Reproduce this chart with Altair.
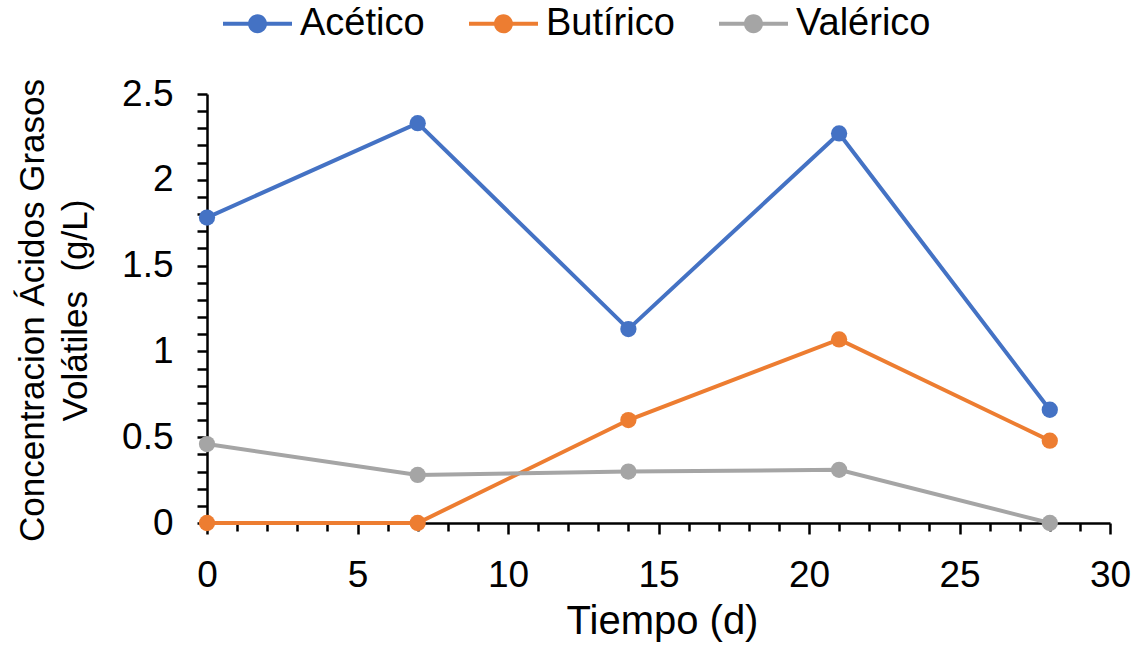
import altair as alt
import pandas as pd

# Sampling days and measured volatile fatty acid concentrations (g/L)
days = [0, 7, 14, 21, 28]
acetico = [1.78, 2.33, 1.13, 2.27, 0.66]
butirico = [0.00, 0.00, 0.60, 1.07, 0.48]
valerico = [0.46, 0.28, 0.30, 0.31, 0.00]

series_names = ["Acético", "Butírico", "Valérico"]
series_colors = ["#4472C4", "#ED7D31", "#A5A5A5"]

rows = []
for name, values in zip(series_names, [acetico, butirico, valerico]):
    for d, v in zip(days, values):
        rows.append({"Tiempo": d, "Conc": v, "Serie": name})
df = pd.DataFrame(rows)

FONT = "Liberation Sans"
PLOT_W, PLOT_H = 903, 429
NBSP = "\u00a0"

# tick positions: minor every 1 day / 0.1 g/L, labels only on major ones
x_ticks = list(range(0, 31))
y_ticks = [round(i * 0.1, 1) for i in range(0, 26)]

color_scale = alt.Scale(domain=series_names, range=series_colors)

x_enc = alt.X(
    "Tiempo:Q",
    scale=alt.Scale(domain=[0, 30], nice=False, zero=False),
    axis=alt.Axis(
        values=x_ticks,
        labelExpr="datum.value % 5 === 0 ? format(datum.value, 'd') : ''",
        labelOverlap=False,
        labelFlush=False,
        labelFontSize=37,
        labelPadding=23,
        tickSize={"condition": {"test": "datum.value % 5 === 0", "value": 11}, "value": 8},
        title="Tiempo (d)",
        titleFontSize=40,
        titleX=455,
        titleY=110,
        titleAlign="center",
        titleBaseline="alphabetic",
    ),
)

y_enc = alt.Y(
    "Conc:Q",
    scale=alt.Scale(domain=[0, 2.5], nice=False),
    axis=alt.Axis(
        values=y_ticks,
        labelExpr="abs(datum.value * 2 - round(datum.value * 2)) < 0.001 ? format(datum.value, '.1~f') : ''",
        labelOverlap=False,
        labelFlush=False,
        labelFontSize=37,
        labelPadding=24,
        tickSize=10,
        title=[
            "Concentracion Ácidos Grasos",
            "Volátiles" + NBSP + NBSP + "(g/L)" + NBSP + NBSP,
        ],
        titleFontSize=35,
        titleLineHeight=43,
        titleAngle=270,
        titleAlign="center",
        titleBaseline="alphabetic",
        titleX=-164,
        titleY=216,
    ),
)

lines = alt.Chart(df).mark_line(strokeWidth=4).encode(
    x=x_enc,
    y=y_enc,
    color=alt.Color("Serie:N", scale=color_scale, legend=None),
    detail="Serie:N",
)

# legend symbol: a short line with a dot in the middle
legend_shape = (
    "M-1,-0.06 L1,-0.06 L1,0.06 L-1,0.06 Z "
    "M0.275,0 A0.275,0.275 0 1,1 -0.275,0 A0.275,0.275 0 1,1 0.275,0 Z"
)

points = alt.Chart(df).mark_circle(size=265, opacity=1).encode(
    x=x_enc,
    y=y_enc,
    color=alt.Color(
        "Serie:N",
        scale=color_scale,
        legend=alt.Legend(
            title=None,
            orient="none",
            direction="horizontal",
            legendX=16,
            legendY=-105,
            symbolType=legend_shape,
            symbolSize=4761,
            symbolStrokeWidth=0,
            symbolOpacity=1,
            labelFontSize=38,
            labelFont=FONT,
            labelColor="#000000",
            labelOffset=8,
            labelLimit=400,
            columnPadding=44,
            padding=0,
        ),
    ),
)

chart = (
    alt.layer(lines, points)
    .resolve_legend(color="independent")
    .properties(
        width=PLOT_W,
        height=PLOT_H,
        autosize=alt.AutoSizeParams(type="none"),
        padding={"left": 207, "top": 94, "right": 28, "bottom": 123},
        background="white",
    )
    .configure_view(stroke=None)
    .configure_axis(
        grid=False,
        domainColor="#000000",
        domainWidth=2.5,
        tickColor="#000000",
        tickWidth=2.5,
        labelColor="#000000",
        titleColor="#000000",
        labelFont=FONT,
        titleFont=FONT,
        titleFontWeight="normal",
    )
)

chart.save("out.html", embed_options={"renderer": "svg", "actions": False})
